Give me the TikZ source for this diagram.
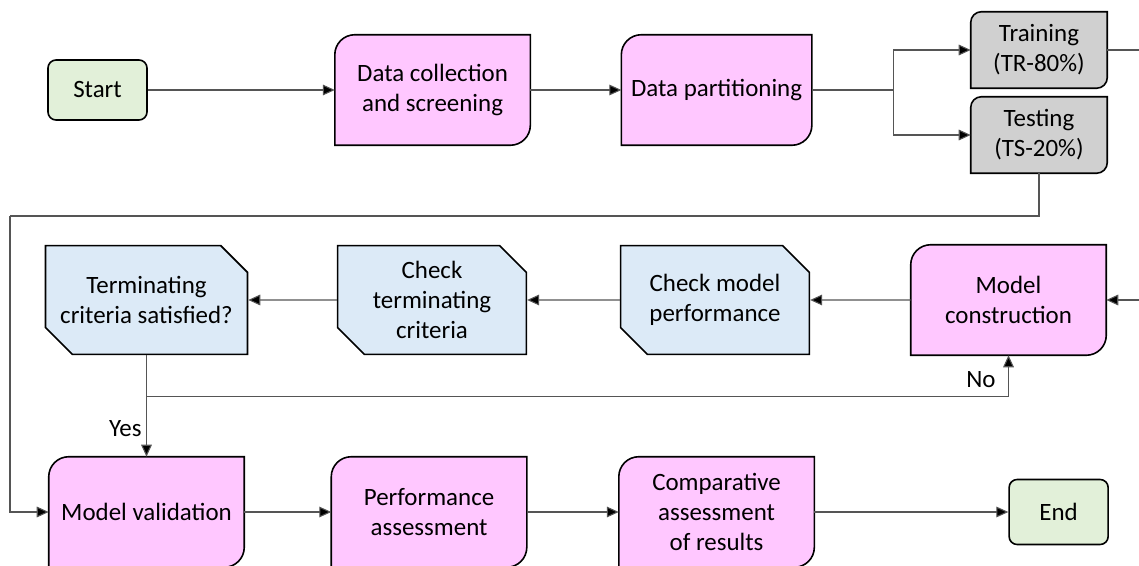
\documentclass[tikz,border=0pt]{standalone}
\usepackage{fontspec}
\setmainfont{Carlito}
\usetikzlibrary{arrows.meta,positioning,calc,shapes.misc,backgrounds}
\definecolor{termc}{RGB}{226,240,217}
\definecolor{procc}{RGB}{255,199,255}
\definecolor{splitc}{RGB}{208,208,208}
\definecolor{checkc}{RGB}{220,234,247}
\definecolor{linec}{RGB}{85,85,85}

% outline with two rounded corners (top left, bottom right), drawn behind the node
\newcommand{\tabshape}[3]{%
  \begin{pgfonlayer}{background}
    \filldraw[fill=#3, draw=black, line width=1.2pt]
      ($(#1.north west)+(0,-#2)$) arc[start angle=180, end angle=90, radius=#2]
      -- (#1.north east) -- ($(#1.south east)+(0,#2)$)
      arc[start angle=0, end angle=-90, radius=#2] -- (#1.south west) -- cycle;
  \end{pgfonlayer}}

\begin{document}
\begin{tikzpicture}[x=0.75pt, y=-0.75pt,
  font=\fontsize{18.7}{22.5}\selectfont,
  termbox/.style={draw, line width=1.2pt, rounded corners=6pt, fill=termc, minimum width=74.25pt, minimum height=45pt},
  procbox/.style={align=center, minimum width=146.25pt, minimum height=82.5pt, inner sep=2pt},
  setbox/.style={align=center, minimum width=102pt, minimum height=57pt, inner sep=1pt},
  chkbox/.style={draw, line width=1.2pt, fill=checkc, align=center, chamfered rectangle,
    chamfered rectangle corners={north east,south west}, chamfered rectangle xsep=10pt,
    chamfered rectangle ysep=10pt, minimum width=141.5pt, minimum height=81.5pt, inner sep=1pt},
  conn/.style={draw=linec, line width=0.8pt, -{Triangle[length=9pt,width=8pt,fill=black]}},
  plain/.style={draw=linec, line width=0.8pt}]
  \useasboundingbox (0,0) rectangle (1139,566);
  % first row
  \node[termbox] (start) at (97.5,90) {Start};
  \node[procbox, right=140.25pt of start] (coll) {Data collection\\and screening};
  \node[procbox, minimum width=142.5pt, right=68.25pt of coll] (part) {Data partitioning};
  \node[setbox] (train) at (1039,50) {Training\\(TR-80\%)};
  \node[setbox] (test) at (1039,135) {Testing\\(TS-20\%)};
  % second row
  \node[chkbox] (sat) at (146.5,300) {Terminating\\criteria satisfied?};
  \node[chkbox] (chkterm) at (432,300) {Check\\terminating\\criteria};
  \node[chkbox] (chkperf) at (715,300) {Check model\\performance};
  \node[procbox] (build) at (1008.5,300) {Model\\construction};
  % third row
  \node[procbox] (valid) at (146.5,512) {Model validation};
  \node[procbox, right=65.25pt of valid] (perf) {Performance\\assessment};
  \node[procbox, right=69pt of perf] (comp) {Comparative\\assessment\\of results};
  \node[termbox, minimum height=48.75pt, right=145.5pt of comp] (end) {End};
  % box outlines
  \foreach \n in {coll,part,build,valid,perf,comp} \tabshape{\n}{15pt}{procc};
  \foreach \n in {train,test} \tabshape{\n}{8pt}{splitc};
  % helper points
  \coordinate (split) at ($(part.east)+(61.5pt,0)$);
  \coordinate (back) at (10,216);
  \coordinate (fork) at ($(sat.south)+(0,-30.75pt)$);
  % flow
  \draw[conn] (start) -- (coll);
  \draw[conn] (coll) -- (part);
  \draw[plain] (part.east) -- (split);
  \draw[conn] (split) |- (train.west);
  \draw[conn] (split) |- (test.west);
  \draw[conn] (train.east) -- ++(30pt,0) |- (build.east);
  \draw[plain] (test.south) |- (back);
  \draw[conn] (back) |- (valid.west);
  \draw[conn] (build) -- (chkperf);
  \draw[conn] (chkperf) -- (chkterm);
  \draw[conn] (chkterm) -- (sat);
  \draw[conn] (sat.south) -- node[left, pos=0.72]{Yes} (valid.north);
  \draw[conn] (fork) -| node[left, pos=0.7, xshift=-6pt]{No} (build.south);
  \draw[conn] (valid) -- (perf);
  \draw[conn] (perf) -- (comp);
  \draw[conn] (comp) -- (end);
\end{tikzpicture}
\end{document}
